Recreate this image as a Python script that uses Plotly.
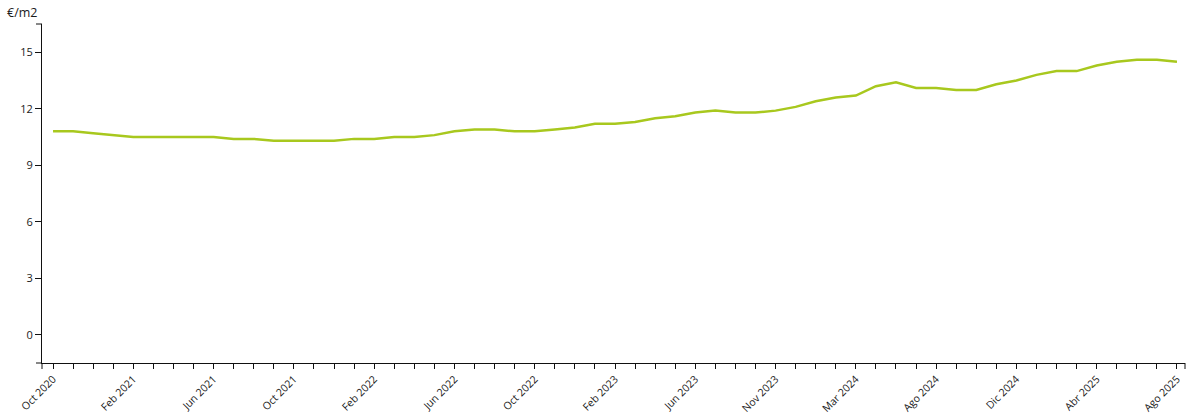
import plotly.graph_objects as go

months = [
    "Oct 2020", "Nov 2020", "Dic 2020", "Ene 2021", "Feb 2021", "Mar 2021", "Abr 2021", "May 2021",
    "Jun 2021", "Jul 2021", "Ago 2021", "Sep 2021", "Oct 2021", "Nov 2021", "Dic 2021", "Ene 2022",
    "Feb 2022", "Mar 2022", "Abr 2022", "May 2022", "Jun 2022", "Jul 2022", "Ago 2022", "Sep 2022",
    "Oct 2022", "Nov 2022", "Dic 2022", "Ene 2023", "Feb 2023", "Mar 2023", "Abr 2023", "May 2023",
    "Jun 2023", "Jul 2023", "Ago 2023", "Sep 2023", "Nov 2023", "Dic 2023", "Ene 2024", "Feb 2024",
    "Mar 2024", "Abr 2024", "May 2024", "Jul 2024", "Ago 2024", "Sep 2024", "Oct 2024", "Nov 2024",
    "Dic 2024", "Ene 2025", "Feb 2025", "Mar 2025", "Abr 2025", "May 2025", "Jun 2025", "Jul 2025",
    "Ago 2025",
]

price = [
    10.8, 10.8, 10.7, 10.6, 10.5, 10.5, 10.5, 10.5,
    10.5, 10.4, 10.4, 10.3, 10.3, 10.3, 10.3, 10.4,
    10.4, 10.5, 10.5, 10.6, 10.8, 10.9, 10.9, 10.8,
    10.8, 10.9, 11.0, 11.2, 11.2, 11.3, 11.5, 11.6,
    11.8, 11.9, 11.8, 11.8, 11.9, 12.1, 12.4, 12.6,
    12.7, 13.2, 13.4, 13.1, 13.1, 13.0, 13.0, 13.3,
    13.5, 13.8, 14.0, 14.0, 14.3, 14.5, 14.6, 14.6,
    14.5,
]

y_ticks = [0, 3, 6, 9, 12, 15]
label_every = 4
tick_text = [m if i % label_every == 0 else "" for i, m in enumerate(months)]

fig = go.Figure()
fig.add_trace(go.Scatter(
    x=months, y=price, mode="lines",
    line=dict(color="#a8c81e", width=2.5),
    hovertemplate="%{x}: %{y} €/m2<extra></extra>",
))

axis_color = "#111111"
text_color = "#1a1a1a"
fig.update_layout(
    template="none",
    width=1200, height=418,
    margin=dict(l=42, r=15, t=24, b=55, autoexpand=False),
    paper_bgcolor="white", plot_bgcolor="white",
    showlegend=False,
    font=dict(family="Open Sans, sans-serif", size=11, color=text_color),
    xaxis=dict(
        type="category",
        automargin=False,
        range=[-0.55, 56.4],
        tickmode="array", tickvals=months, ticktext=tick_text,
        tickangle=-45,
        ticks="outside", ticklen=5, tickcolor=axis_color, tickwidth=1,
        showline=True, linecolor=axis_color, linewidth=1,
        showgrid=False, zeroline=False,
        tickfont=dict(size=10.5, color=text_color),
    ),
    yaxis=dict(
        automargin=False,
        range=[-1.5, 16.5],
        tickmode="array", tickvals=y_ticks,
        ticks="outside", ticklen=6, tickcolor=axis_color, tickwidth=1,
        showline=True, linecolor=axis_color, linewidth=1,
        showgrid=False, zeroline=False,
        tickfont=dict(size=11, color=text_color),
    ),
    annotations=[dict(
        text="€/m2", xref="paper", yref="paper",
        x=-37 / 1143, y=1, yshift=12, xanchor="left", yanchor="middle",
        showarrow=False, font=dict(size=12.5, color=text_color),
    )],
    shapes=[
        # outer ticks of the axes' domain paths
        dict(type="line", xref="paper", yref="paper", xsizemode="pixel", xanchor=0,
             x0=-6, x1=0, y0=1, y1=1, line=dict(color=axis_color, width=1)),
        dict(type="line", xref="paper", yref="paper", xsizemode="pixel", xanchor=0,
             x0=-6, x1=0, y0=0, y1=0, line=dict(color=axis_color, width=1)),
        dict(type="line", xref="paper", yref="paper", ysizemode="pixel", yanchor=0,
             x0=0, x1=0, y0=0, y1=-6, line=dict(color=axis_color, width=1)),
        dict(type="line", xref="paper", yref="paper", ysizemode="pixel", yanchor=0,
             x0=1, x1=1, y0=0, y1=-6, line=dict(color=axis_color, width=1)),
    ],
)

fig.write_html(
    "out.html",
    config={"displayModeBar": False},
    post_script="document.body.style.margin='0';document.body.style.overflow='hidden';",
)
